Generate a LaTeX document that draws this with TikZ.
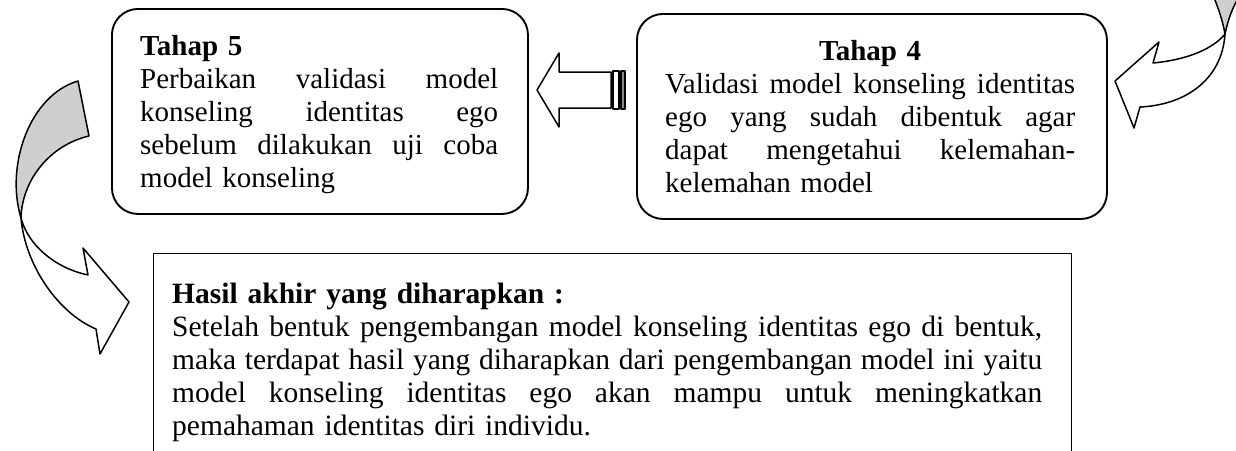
\documentclass[tikz,border=0pt]{standalone}
\usepackage{fontspec}
\setmainfont{Liberation Serif}
\newcommand{\jl}[2]{\makebox[#1][s]{#2}}
\newcommand{\wg}{\hspace{0pt plus 1fill}}
\definecolor{shade}{HTML}{CFCFCF}
\definecolor{stripe}{HTML}{8A8A8A}
\begin{document}
\begin{tikzpicture}[x=1pt,y=-1pt,line join=round,
  font=\fontsize{29}{33}\selectfont,
  roundbox/.style={draw,line width=1.9pt,rounded corners=26pt,inner sep=0pt},
  plainbox/.style={draw,line width=1.4pt,inner sep=0pt},
  txt/.style={inner sep=0pt,align=left},
  arrowline/.style={draw,line width=1.5pt}]
\useasboundingbox (0,0) rectangle (1236,450);
\clip (0,0) rectangle (1236,450);

% boxes
\node[roundbox,minimum width=416pt,minimum height=205pt,anchor=north west] (box5) at (111,8) {};
\node[roundbox,minimum width=470pt,minimum height=205pt,anchor=north west] (box4) at (636,13) {};
\node[plainbox,minimum width=918pt,minimum height=260pt,anchor=north west] (hasilbox) at (153,253) {};

% texts
\node[txt,text width=358pt,anchor=north west] (t5) at (140,35) {%
\textbf{Tahap 5}\\
\jl{358pt}{Perbaikan\wg validasi\wg model}\\
\jl{358pt}{konseling\wg identitas\wg ego}\\
\jl{358pt}{sebelum\wg dilakukan\wg uji\wg coba}\\
model konseling};

\node[txt,text width=410pt,anchor=north west] (t4) at (665,40) {%
\makebox[410pt][c]{\textbf{Tahap 4}}\\
\jl{410pt}{Validasi\wg model\wg konseling\wg identitas}\\
\jl{410pt}{ego\wg yang\wg sudah\wg dibentuk\wg agar}\\
\jl{410pt}{dapat\wg mengetahui\wg kelemahan-}\\
kelemahan model};

\node[txt,text width=870pt,anchor=north west,font=\fontsize{29.5}{33}\selectfont] (hasil) at (172,283) {%
\textbf{Hasil akhir yang diharapkan :}\\
\jl{870pt}{Setelah\wg bentuk\wg pengembangan\wg model\wg konseling\wg identitas\wg ego\wg di\wg bentuk,}\\
\jl{870pt}{maka\wg terdapat\wg hasil\wg yang\wg diharapkan\wg dari\wg pengembangan\wg model\wg ini\wg yaitu}\\
\jl{870pt}{model\wg konseling\wg identitas\wg ego\wg akan\wg mampu\wg untuk\wg meningkatkan}\\
pemahaman identitas diri individu.};

% block arrow from Tahap 4 to Tahap 5
\draw[arrowline,fill=white] (537,90) -- (559,53) -- (559,72) -- (611,72) -- (611,108) -- (559,108) -- (559,127) -- cycle;
\draw[arrowline,fill=white] (613,71) rectangle (619,109);
\draw[arrowline,fill=stripe] (621,71) rectangle (625,109);

% curved arrow top right (into Tahap 4)
\draw[arrowline,fill=shade] (1213,-5) .. controls (1219,10) and (1223,22) .. (1225,34) .. controls (1228,20) and (1232,8) .. (1240,-5) -- cycle;
\draw[arrowline,fill=white] (1225,34) .. controls (1212,50) and (1185,60) .. (1153,63) -- (1159,42) -- (1115,81) -- (1134,128) -- (1140,107) .. controls (1185,105) and (1222,80) .. (1225,34) -- cycle;

% curved arrow left (Tahap 5 to result)
\draw[arrowline,fill=shade] (78,81) .. controls (30,95) and (5,165) .. (21,218) .. controls (22,180) and (50,145) .. (89,136) -- cycle;
\draw[arrowline,fill=white] (21,218) .. controls (28,245) and (55,268) .. (88,275) -- (83,248) -- (129,302) -- (100,354) -- (96,329) .. controls (58,313) and (25,265) .. (21,218) -- cycle;
\end{tikzpicture}
\end{document}
